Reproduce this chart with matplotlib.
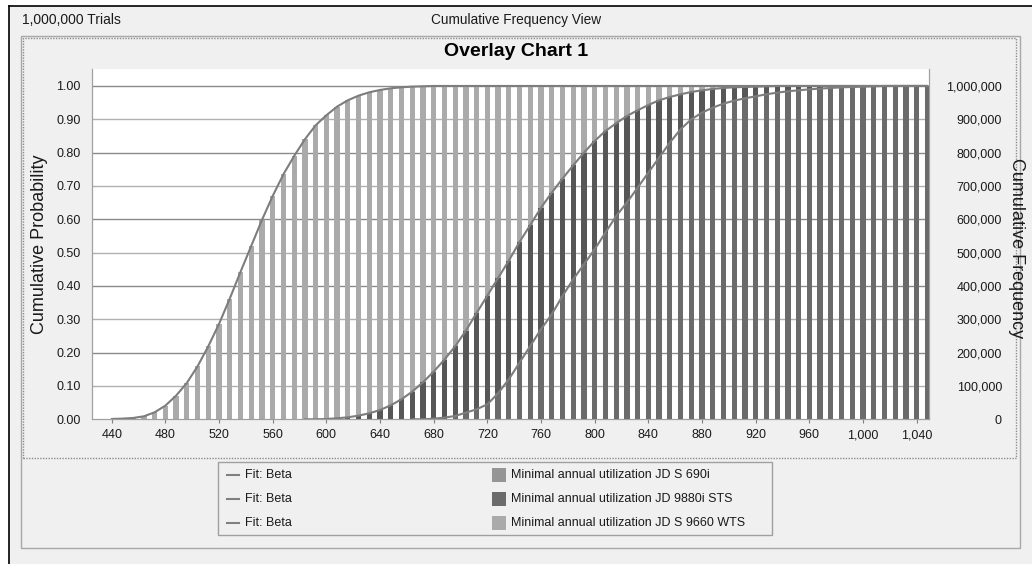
import matplotlib
matplotlib.use("Agg")
import matplotlib.pyplot as plt
from matplotlib.patches import Rectangle
from matplotlib.lines import Line2D

plt.rcParams['font.family'] = ['Liberation Sans', 'DejaVu Sans']

# ---------------- data ----------------
bin_centers = list(range(440, 1056, 8))  # 77 bins, 8 units wide

# Minimal annual utilization JD S 9660 WTS (light bars)
cdf_9660 = [0.001, 0.002, 0.004, 0.009, 0.021, 0.041, 0.071, 0.109, 0.159, 0.219,
            0.286, 0.362, 0.442, 0.520, 0.598, 0.670, 0.735, 0.790, 0.840, 0.882,
            0.912, 0.938, 0.957, 0.971, 0.981, 0.988, 0.993, 0.996, 0.998, 0.999] + [1.0] * 47

# Minimal annual utilization JD 9880i STS (dark bars)
cdf_9880 = [0.0] * 20 + [
    0.001, 0.003, 0.006, 0.011, 0.018, 0.028, 0.042, 0.060, 0.083, 0.111,
    0.143, 0.179, 0.219, 0.266, 0.319, 0.371, 0.424, 0.476, 0.532, 0.583,
    0.635, 0.680, 0.722, 0.762, 0.800, 0.835, 0.865, 0.888, 0.910, 0.927,
    0.943, 0.957, 0.967, 0.975, 0.982, 0.987, 0.991, 0.994, 0.996, 0.997,
    0.998, 0.999] + [1.0] * 15

# Minimal annual utilization JD S 690i (medium bars)
cdf_690 = [0.0] * 30 + [
    0.002, 0.005, 0.010, 0.020, 0.030, 0.045, 0.078, 0.120, 0.170, 0.220,
    0.270, 0.315, 0.370, 0.420, 0.465, 0.510, 0.560, 0.610, 0.650, 0.695,
    0.740, 0.785, 0.830, 0.870, 0.900, 0.920, 0.935, 0.947, 0.956, 0.963,
    0.969, 0.975, 0.980, 0.984, 0.987, 0.990, 0.992, 0.994, 0.996, 0.997,
    0.998, 0.999] + [1.0] * 5

x_ticks = list(range(440, 1041, 40))
prob_ticks = [i / 10 for i in range(11)]
freq_ticks = [i * 100000 for i in range(11)]
series_names = ["Minimal annual utilization JD S 690i",
                "Minimal annual utilization JD 9880i STS",
                "Minimal annual utilization JD S 9660 WTS"]

# ---------------- figure ----------------
W, H = 1032, 564
fig = plt.figure(figsize=(W / 100, H / 100), dpi=100, facecolor='white')


def fx(px):
    return px / W


def fy(py):
    return 1 - py / H


def frect(x0, y0, x1, y1, **kw):
    r = Rectangle((fx(x0), fy(y1)), fx(x1) - fx(x0), fy(y0) - fy(y1),
                  transform=fig.transFigure, **kw)
    fig.add_artist(r)
    return r


# window background + border
frect(9, 6, 1040, 570, facecolor='#f0f0f0', edgecolor='none', zorder=0)
fig.add_artist(Line2D([fx(9), fx(1032)], [fy(6), fy(6)], color='black', lw=1.2,
                      transform=fig.transFigure))
fig.add_artist(Line2D([fx(9), fx(9)], [fy(6), fy(564)], color='black', lw=1.2,
                      transform=fig.transFigure))

# panels
frect(21, 36, 1020, 548, facecolor='none', edgecolor='#a8a8a8', lw=1.0, zorder=1)
frect(23, 38, 1016, 458, facecolor='none', edgecolor='#8c8c8c', lw=1.0,
      linestyle=(0, (1, 1)), zorder=1)

fig.text(fx(22), fy(20), "1,000,000 Trials", fontsize=10, ha='left', va='center', color='#1a1a1a')
fig.text(fx(516), fy(20), "Cumulative Frequency View", fontsize=9.8, ha='center', va='center',
         color='#1a1a1a')
fig.text(fx(516), fy(52), "Overlay Chart 1", fontsize=14, fontweight='bold', ha='center',
         va='center', color='black')

# ---------------- axes ----------------
left, right, top, bottom = 91.7, 929.3, 69.3, 419.3
ax = fig.add_axes([fx(left), fy(bottom), fx(right) - fx(left), fy(top) - fy(bottom)])
ax.set_facecolor('white')
ax.set_xlim(425.1, 1049.4)
ax.set_ylim(0, 1.05)

for i, v in enumerate(prob_ticks[1:], start=1):
    ax.axhline(v, color='#8a8a8a' if i % 2 == 0 else '#b0b0b0', lw=1.0, zorder=0.5)

bw = 3.9
ax.bar(bin_centers, cdf_9660, width=bw, color='#aaaaaa', zorder=2)
ax.bar(bin_centers, cdf_9880, width=bw, color='#575757', zorder=3)
ax.bar(bin_centers, cdf_690, width=bw, color='#6b6b6b', zorder=4)


def fit_segment(vals):
    start = 0
    for i, v in enumerate(vals):
        if v > 0:
            start = max(0, i - 2)
            break
    return bin_centers[start:], vals[start:]


for vals in (cdf_690, cdf_9880, cdf_9660):
    xs, ys = fit_segment(vals)
    ax.plot(xs, ys, color='#7d7d7d', lw=1.5, zorder=5, solid_capstyle='round')

ax.set_xticks(x_ticks)
ax.set_xticklabels([f"{t:,}" for t in x_ticks])
ax.set_yticks(prob_ticks)
ax.set_yticklabels([f"{t:.2f}" for t in prob_ticks])
ax.tick_params(axis='x', direction='out', length=3, width=0.8, color='#808080',
               labelsize=9, pad=4, labelcolor='#1a1a1a')
ax.tick_params(axis='y', length=0, labelsize=9, pad=8, labelcolor='#1a1a1a')
for s in ('left', 'bottom', 'right'):
    ax.spines[s].set_color('#a0a0a0')
    ax.spines[s].set_linewidth(0.8)
ax.spines['top'].set_visible(False)

ax2 = ax.twinx()
ax2.set_ylim(0, 1.05e6)
ax2.set_yticks(freq_ticks)
ax2.set_yticklabels([f"{t:,}" for t in freq_ticks])
ax2.tick_params(axis='y', length=0, labelsize=9, pad=52.3, labelcolor='#1a1a1a')
for lab in ax2.get_yticklabels():
    lab.set_horizontalalignment('right')
for s in ('left', 'bottom', 'right'):
    ax2.spines[s].set_color('#a0a0a0')
    ax2.spines[s].set_linewidth(0.8)
ax2.spines['top'].set_visible(False)

fig.text(fx(40), fy(244), "Cumulative Probability", rotation=90, fontsize=13,
         ha='center', va='center', color='#1a1a1a')
fig.text(fx(1016), fy(248), "Cumulative Frequency", rotation=270, fontsize=13,
         ha='center', va='center', color='#1a1a1a')

# ---------------- legend ----------------
frect(218, 462, 772, 535, facecolor='#f0f0f0', edgecolor='#a0a0a0', lw=1.0, zorder=2)
rows = [475, 499, 523]
swatches = ['#959595', '#6b6b6b', '#aaaaaa']
for ry, name, col in zip(rows, series_names, swatches):
    fig.add_artist(Line2D([fx(227), fx(239)], [fy(ry), fy(ry)], color='#808080', lw=1.5,
                          transform=fig.transFigure, zorder=3))
    fig.text(fx(245), fy(ry), "Fit: Beta", fontsize=9, ha='left', va='center',
             color='#1a1a1a', zorder=3)
    frect(492.3, ry - 6.7, 505.7, ry + 6.7, facecolor=col, edgecolor='none', zorder=3)
    fig.text(fx(511), fy(ry), name, fontsize=9, ha='left', va='center',
             color='#1a1a1a', zorder=3)

fig.savefig("out.png", dpi=100, facecolor=fig.get_facecolor())
